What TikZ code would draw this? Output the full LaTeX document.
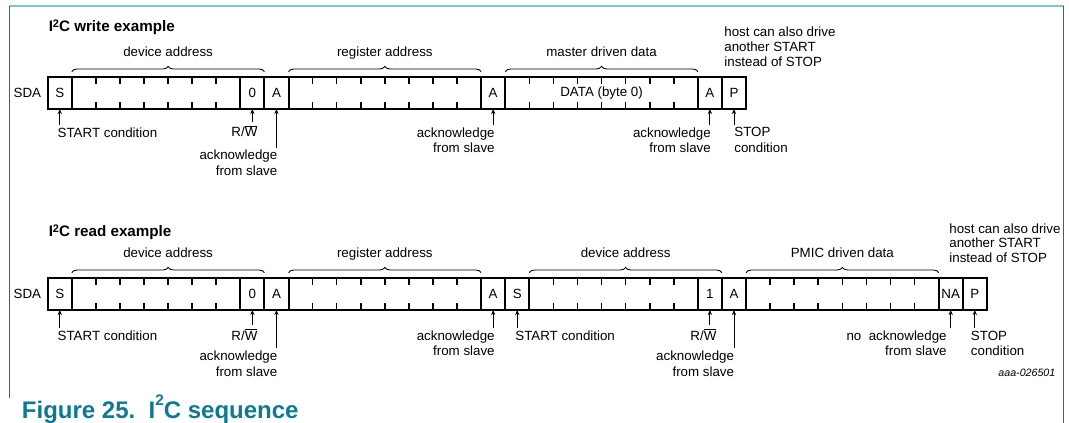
\documentclass[tikz,border=0pt]{standalone}
\usepackage{fontspec}
\setmainfont{Liberation Sans}
\usetikzlibrary{arrows.meta,decorations.pathreplacing,positioning}

\definecolor{capteal}{RGB}{16,121,146}
\definecolor{frameteal}{RGB}{28,112,134}
\definecolor{framelight}{RGB}{128,194,210}

\newcommand{\iic}{I\raisebox{2.8pt}{\fontsize{8.2}{8.2}\selectfont 2}C}
\newcommand{\rwbar}{R/$\overline{\hbox{W}}$}

\tikzset{
  cell/.style={draw, line width=1.5pt, minimum width=18.06pt, minimum height=24pt,
    inner sep=0pt, outer sep=0pt, font=\fontsize{10}{12}\selectfont},
  tick/.style={line width=1.2pt},
  brace/.style={decorate, decoration={brace, amplitude=4pt}, line width=0.65pt},
  arr/.style={line width=0.7pt, -{Stealth[length=3.8pt,width=3.2pt]}},
  lbl/.style={font=\fontsize{10}{11.5}\selectfont, inner sep=0pt, outer sep=2pt},
  bracelbl/.style={lbl, midway, anchor=base, yshift=11pt},
  hdr/.style={font=\fontsize{11.4}{13}\selectfont\bfseries, inner sep=0pt, anchor=base west},
}

\begin{document}
\begin{tikzpicture}[x=0.75pt,y=-0.75pt]
\useasboundingbox (0,0) rectangle (1069,423);
%frame
\draw[framelight, line width=1.5pt] (9,6.5) -- (1064,6.5);
\draw[frameteal, line width=1.2pt] (9.5,6) -- (9.5,398);
\draw[frameteal, line width=1.2pt] (1063.5,6) -- (1063.5,423);

% write example
\node[hdr] (wtitle) at (48.5,31.7) {\iic\ write example};
\node[cell] (ws) at (59.74,93) {S};
\node[cell, minimum width=7*18.06pt] (wdev) at (156.06,93) {};
\node[cell] (wrw) at (252.38,93) {0};
\node[cell] (wack1) at (276.46,93) {A};
\node[cell, minimum width=8*18.06pt] (wreg) at (384.82,93) {};
\node[cell] (wack2) at (493.18,93) {A};
\node[cell, minimum width=8*18.06pt] (wdata) at (601.54,93) {DATA (byte 0)};
\node[cell] (wack3) at (709.90,93) {A};
\node[cell] (wstop) at (733.98,93) {P};
\node[lbl, left=3pt of ws] (wsda) {SDA};

\draw[brace] ([yshift=4pt]wdev.north west) -- ([yshift=4pt]wrw.north east) node[bracelbl] (wdevt) {device address};
\draw[brace] ([yshift=4pt]wreg.north west) -- ([yshift=4pt]wreg.north east) node[bracelbl] (wregt) {register address};
\draw[brace] ([yshift=4pt]wdata.north west) -- ([yshift=4pt]wdata.north east) node[bracelbl] (wdatat) {master driven data};

\node[lbl, anchor=north west, align=left, font=\fontsize{10}{11.3}\selectfont] (whost) at (721.7,24) {host can also drive\\another START\\instead of STOP};

\node[lbl, anchor=north west] (wsl) at (55,125) {START condition};
\node[lbl, anchor=base east] (wrwl) at (260,137) {\rwbar};
\node[lbl, anchor=north east, align=right] (wack1l) at (280,147.6) {acknowledge\\from slave};
\node[lbl, anchor=north east, align=right] (wack2l) at (497.3,125) {acknowledge\\from slave};
\node[lbl, anchor=north east, align=right] (wack3l) at (713.5,125) {acknowledge\\from slave};
\node[lbl, anchor=north west, align=left] (wstopl) at (731.7,125) {STOP\\condition};

% read example
\node[hdr] (rtitle) at (48.5,236.5) {\iic\ read example};
\node[cell] (rs1) at (59.74,294) {S};
\node[cell, minimum width=7*18.06pt] (rdev1) at (156.06,294) {};
\node[cell] (rrw1) at (252.38,294) {0};
\node[cell] (rack1) at (276.46,294) {A};
\node[cell, minimum width=8*18.06pt] (rreg) at (384.82,294) {};
\node[cell] (rack2) at (493.18,294) {A};
\node[cell] (rs2) at (517.26,294) {S};
\node[cell, minimum width=7*18.06pt] (rdev2) at (613.58,294) {};
\node[cell] (rrw2) at (709.90,294) {1};
\node[cell] (rack3) at (733.98,294) {A};
\node[cell, minimum width=8*18.06pt] (rdata) at (842.34,294) {};
\node[cell] (rnack) at (950.70,294) {NA};
\node[cell] (rstop) at (974.78,294) {P};
\node[lbl, left=3pt of rs1] (rsda) {SDA};

\draw[brace] ([yshift=4pt]rdev1.north west) -- ([yshift=4pt]rrw1.north east) node[bracelbl] (rdev1t) {device address};
\draw[brace] ([yshift=4pt]rreg.north west) -- ([yshift=4pt]rreg.north east) node[bracelbl] (rregt) {register address};
\draw[brace] ([yshift=4pt]rdev2.north west) -- ([yshift=4pt]rrw2.north east) node[bracelbl] (rdev2t) {device address};
\draw[brace] ([yshift=4pt]rdata.north west) -- ([yshift=4pt]rdata.north east) node[bracelbl] (rdatat) {PMIC driven data};

\node[lbl, anchor=north west, align=left, font=\fontsize{10}{10.8}\selectfont] (rhost) at (946.7,221) {host can also drive\\another START\\instead of STOP};

\node[lbl, anchor=north west] (rs1l) at (55,328.3) {START condition};
\node[lbl, anchor=base east] (rrw1l) at (260,340) {\rwbar};
\node[lbl, anchor=north east, align=right] (rack1l) at (280,348.5) {acknowledge\\from slave};
\node[lbl, anchor=north east, align=right] (rack2l) at (497.3,328.3) {acknowledge\\from slave};
\node[lbl, anchor=north west] (rs2l) at (512.7,328.3) {START condition};
\node[lbl, anchor=base east] (rrw2l) at (719,340) {\rwbar};
\node[lbl, anchor=north east, align=right] (rack3l) at (736.7,348.5) {acknowledge\\from slave};
\node[lbl, anchor=north east, align=right] (rnackl) at (949.3,328.3) {no\ \ acknowledge\\from slave};
\node[lbl, anchor=north west, align=left] (rstopl) at (968.3,328.3) {STOP\\condition};

% bit ticks
\foreach \f/\n in {wdev/6,wreg/7,wdata/7,rdev1/6,rreg/7,rdev2/6,rdata/7}
  \foreach \j in {1,...,\n} {
    \draw[tick] ([xshift={\j*18.06pt}]\f.north west) -- ++(0,7);
    \draw[tick] ([xshift={\j*18.06pt}]\f.south west) -- ++(0,-7);
  }

% arrows
\foreach \c/\l in {ws/wsl,wrw/wrwl,wack1/wack1l,wack2/wack2l,wack3/wack3l,wstop/wstopl,
    rs1/rs1l,rrw1/rrw1l,rack1/rack1l,rack2/rack2l,rs2/rs2l,rrw2/rrw2l,rack3/rack3l,rnack/rnackl,rstop/rstopl}
  \draw[arr] (\c.south |- \l.north) -- (\c.south);

\node[lbl, font=\fontsize{8}{9}\selectfont\itshape, anchor=base east] (code) at (1058,376.5) {aaa-026501};
\node[font=\fontsize{18}{20}\selectfont\bfseries, text=capteal, anchor=base west, inner sep=0pt] (cap) at (21.7,418.3)
  {Figure 25.\ \ I\raisebox{9.5pt}{\fontsize{11.5}{11.5}\selectfont 2}C sequence};
\end{tikzpicture}
\end{document}
